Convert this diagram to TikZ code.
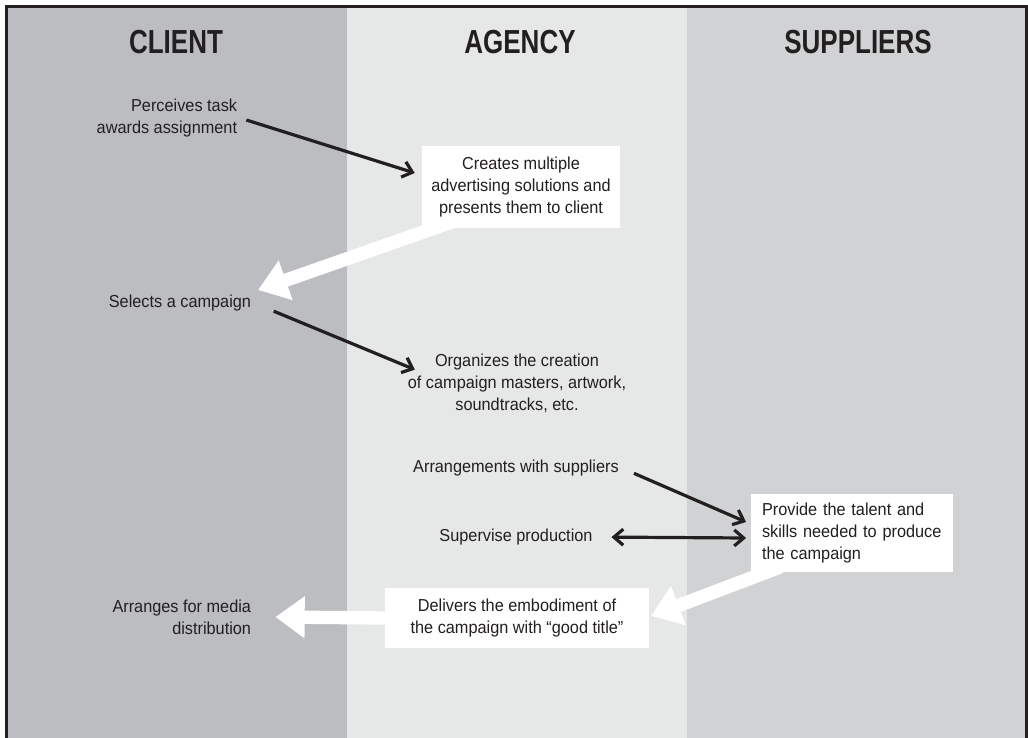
\documentclass[tikz,border=0pt]{standalone}
\usepackage{fontspec}
\setmainfont{Liberation Sans}[FakeStretch=0.94]
\newfontfamily\headfont{Liberation Sans}[FakeStretch=0.78]
\usetikzlibrary{arrows.meta, positioning}
\definecolor{clientgray}{HTML}{BCBDC0}
\definecolor{agencygray}{HTML}{E6E7E7}
\definecolor{suppliergray}{HTML}{D1D2D4}
\definecolor{inkgray}{HTML}{231F20}
\tikzset{x=0.75pt, y=-0.75pt,
    lanetitle/.style={font=\headfont\bfseries\fontsize{25}{28}\selectfont, text=inkgray},
    tasktext/.style={font=\fontsize{13}{16.5}\selectfont, text=inkgray, inner sep=2pt},
    taskbox/.style={tasktext, rectangle, fill=white, align=center, inner xsep=7pt, inner ysep=8pt},
    barb/.tip={Straight Barb[length=7pt, width=12pt]},
    blackarrow/.style={draw=inkgray, line width=2.4pt, -barb},
    whitearrow/.style={draw=white, line width=10pt, -{Triangle[length=22pt, width=30pt]}}}

\begin{document}
\begin{tikzpicture}
    \useasboundingbox (0,0) rectangle (1028,738);
    % lanes
    \fill[clientgray] (6,7) rectangle (347,738);
    \fill[agencygray] (347,7) rectangle (687,738);
    \fill[suppliergray] (687,7) rectangle (1026,738);
    \draw[line width=2.25pt, inkgray] (6,738) -- (6,7) -- (1026,7) -- (1026,738);

    \node[lanetitle] (client) at (176,42) {CLIENT};
    \node[lanetitle] (agency) at (520,42) {AGENCY};
    \node[lanetitle] (suppliers) at (858,42) {SUPPLIERS};

    % steps
    \node[tasktext, anchor=east, align=right] (perceive) at (240,118) {Perceives task\\awards assignment};
    \node[taskbox] (create) at (521,187) {Creates multiple\\advertising solutions and\\presents them to client};
    \node[tasktext, anchor=east] (select) at (254,303) {Selects a campaign};
    \node[tasktext, align=center] (organize) at (517,383) {Organizes the creation\\of campaign masters, artwork,\\soundtracks, etc.};
    \node[tasktext] (arrange) at (516,468) {Arrangements with suppliers};
    \node[tasktext] (supervise) at (516,537) {Supervise production};
    \node[taskbox, align=left, text width=135pt, inner xsep=8pt, inner ysep=7pt] (provide) at (852,533) {Provide the talent and\\skills needed to produce\\the campaign};
    \node[taskbox, inner xsep=19pt] (deliver) at (517,618) {Delivers the embodiment of\\the campaign with “good title”};
    \node[tasktext, anchor=east, align=right] (media) at (254,617) {Arranges for media\\distribution};

    % flow
    \draw[blackarrow, shorten <=5pt] (perceive.east) -- ([shift={(-7,-14)}]create.west);
    \draw[whitearrow] ([shift={(30,-6)}]create.south west) -- ([shift={(4,-13)}]select.east);
    \draw[blackarrow, shorten <=16pt] (select.east) -- ([shift={(10,19)}]organize.north west);
    \draw[blackarrow, shorten <=10pt] (arrange.east) -- ([shift={(-5,-11)}]provide.west);
    \draw[blackarrow, barb-barb, shorten <=12pt] (supervise.east) -- ([shift={(-5,5)}]provide.west);
    \draw[whitearrow] ([shift={(30,-6)}]provide.south west) -- ([shift={(2,-2)}]deliver.east);
    \draw[whitearrow] (deliver.west) -- ([xshift=16]media.east);
\end{tikzpicture}
\end{document}
